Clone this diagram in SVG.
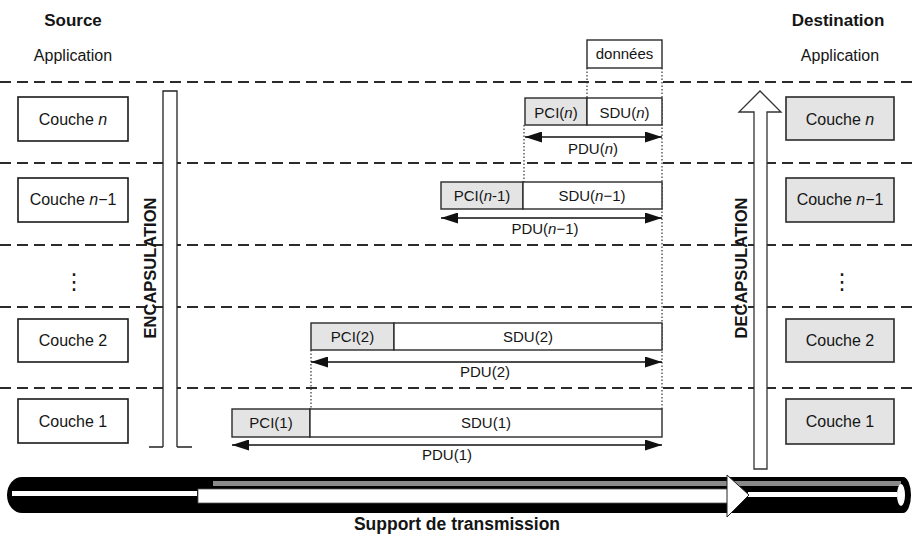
<svg xmlns="http://www.w3.org/2000/svg" width="916" height="534" viewBox="0 0 916 534">
  <style>
    text { font-family: "Liberation Sans", Arial, sans-serif; fill: #151515; }
    .hdr { font-size: 17px; font-weight: bold; text-anchor: middle; }
    .app { font-size: 16px; text-anchor: middle; }
    .lbl { font-size: 16px; text-anchor: middle; }
    .vdots { font-size: 22px; text-anchor: middle; font-family: "DejaVu Sans", sans-serif; }
    .sm { font-size: 15px; text-anchor: middle; }
    .vert { font-size: 16.5px; font-weight: bold; text-anchor: middle; }
    .box { fill: #fff; stroke: #1a1a1a; stroke-width: 1.6; }
    .gbox { fill: #e4e4e4; stroke: #2a2a2a; stroke-width: 1.6; }
    .cell { fill: #fff; stroke: #2a2a2a; stroke-width: 1.4; }
    .gcell { fill: #e4e4e4; stroke: #2a2a2a; stroke-width: 1.4; }
    .sep { stroke: #2b2b2b; stroke-width: 2; stroke-dasharray: 11 6; fill: none; }
    .dot { stroke: #333; stroke-width: 1.2; stroke-dasharray: 1.5 2; fill: none; }
    .pdu { stroke: #111; stroke-width: 1.6; fill: none; marker-start: url(#ah); marker-end: url(#ah); }
  </style>
  <defs>
    <marker id="ah" viewBox="0 0 17 11" refX="17" refY="5.5" markerWidth="17" markerHeight="11" markerUnits="userSpaceOnUse" orient="auto-start-reverse">
      <path d="M0,0 L17,5.5 L0,11 Z" fill="#111"/>
    </marker>
  </defs>

  <!-- column headers -->
  <g id="headers">
    <text class="hdr" x="73" y="26">Source</text>
    <text class="app" x="73" y="61">Application</text>
    <text class="hdr" x="838" y="26">Destination</text>
    <text class="app" x="840" y="61">Application</text>
  </g>

  <!-- layer separators -->
  <g id="separators">
    <line class="sep" x1="0" y1="82" x2="916" y2="82"/>
    <line class="sep" x1="0" y1="163" x2="916" y2="163"/>
    <line class="sep" x1="0" y1="245" x2="916" y2="245"/>
    <line class="sep" x1="0" y1="307" x2="916" y2="307"/>
    <line class="sep" x1="0" y1="388" x2="916" y2="388"/>
  </g>

  <!-- source stack -->
  <g id="src-n">
    <rect class="box" x="18" y="97" width="110" height="44"/>
    <text class="lbl" x="73" y="125">Couche <tspan font-style="italic">n</tspan></text>
  </g>
  <g id="src-n1">
    <rect class="box" x="18" y="178" width="110" height="44"/>
    <text class="lbl" x="73" y="205">Couche <tspan font-style="italic">n</tspan>−1</text>
  </g>
  <g id="src-dots">
    <text class="vdots" x="74" y="289">⋮</text>
  </g>
  <g id="src-2">
    <rect class="box" x="18" y="319" width="110" height="43"/>
    <text class="lbl" x="73" y="346">Couche 2</text>
  </g>
  <g id="src-1">
    <rect class="box" x="18" y="399" width="110" height="44"/>
    <text class="lbl" x="73" y="427">Couche 1</text>
  </g>

  <!-- destination stack -->
  <g id="dst-n">
    <rect class="gbox" x="786" y="97" width="108" height="43"/>
    <text class="lbl" x="840" y="125">Couche <tspan font-style="italic">n</tspan></text>
  </g>
  <g id="dst-n1">
    <rect class="gbox" x="786" y="178" width="108" height="44"/>
    <text class="lbl" x="840" y="205">Couche <tspan font-style="italic">n</tspan>−1</text>
  </g>
  <g id="dst-dots">
    <text class="vdots" x="842" y="289">⋮</text>
  </g>
  <g id="dst-2">
    <rect class="gbox" x="786" y="319" width="108" height="43"/>
    <text class="lbl" x="840" y="346">Couche 2</text>
  </g>
  <g id="dst-1">
    <rect class="gbox" x="786" y="399" width="108" height="45"/>
    <text class="lbl" x="840" y="427">Couche 1</text>
  </g>

  <!-- encapsulation (down) and decapsulation (up) arrows -->
  <g id="encapsulation">
    <path d="M163,447 V91 H177 V447" fill="#fff" stroke="#222" stroke-width="1.3"/>
    <path d="M149,447 H163 M177,447 H192" stroke="#222" stroke-width="1.3"/>
    <text class="vert" transform="translate(156,268) rotate(-90)">ENCAPSULATION</text>
  </g>
  <g id="decapsulation">
    <path d="M754,469 V112 H739 L760,91 L781,112 H767 V469 Z" fill="#fff" stroke="#333" stroke-width="1.3"/>
    <text class="vert" transform="translate(747,268) rotate(-90)">DECAPSULATION</text>
  </g>

  <!-- connectors: guide lines and PDU spans -->
  <g id="connectors">
    <line class="dot" x1="587" y1="68" x2="587" y2="98"/>
    <line class="dot" x1="662" y1="68" x2="662" y2="409"/>
    <line class="dot" x1="524" y1="125" x2="524" y2="182"/>
    <line class="dot" x1="311" y1="350" x2="311" y2="409"/>
    <line class="pdu" x1="525" y1="137" x2="662" y2="137"/>
    <line class="pdu" x1="441" y1="218" x2="662" y2="218"/>
    <line class="pdu" x1="311" y1="362" x2="662" y2="362"/>
    <line class="pdu" x1="232" y1="445" x2="662" y2="445"/>
  </g>

  <!-- data units -->
  <g id="donnees">
    <rect class="cell" x="587" y="40" width="75" height="28"/>
    <text class="sm" x="624.5" y="59" font-size="14">données</text>
  </g>
  <g id="pdu-n">
    <rect class="gcell" x="525" y="98" width="62" height="27"/>
    <rect class="cell" x="587" y="98" width="75" height="27"/>
    <text class="sm" x="556" y="118">PCI(<tspan font-style="italic">n</tspan>)</text>
    <text class="sm" x="624.5" y="118">SDU(<tspan font-style="italic">n</tspan>)</text>
    <text class="sm" x="593" y="154">PDU(<tspan font-style="italic">n</tspan>)</text>
  </g>
  <g id="pdu-n1">
    <rect class="gcell" x="441" y="182" width="82" height="27"/>
    <rect class="cell" x="523" y="182" width="139" height="27"/>
    <text class="sm" x="482" y="201">PCI(<tspan font-style="italic">n</tspan>-1)</text>
    <text class="sm" x="592" y="201">SDU(<tspan font-style="italic">n</tspan>−1)</text>
    <text class="sm" x="545" y="234">PDU(<tspan font-style="italic">n</tspan>−1)</text>
  </g>
  <g id="pdu-2">
    <rect class="gcell" x="311" y="323" width="83" height="27"/>
    <rect class="cell" x="394" y="323" width="268" height="27"/>
    <text class="sm" x="352.5" y="342">PCI(2)</text>
    <text class="sm" x="528" y="342">SDU(2)</text>
    <text class="sm" x="485" y="377">PDU(2)</text>
  </g>
  <g id="pdu-1">
    <rect class="gcell" x="232" y="409" width="78" height="28"/>
    <rect class="cell" x="310" y="409" width="352" height="28"/>
    <text class="sm" x="271" y="428">PCI(1)</text>
    <text class="sm" x="486" y="428">SDU(1)</text>
    <text class="sm" x="447" y="460">PDU(1)</text>
  </g>

  <!-- transmission medium (pipe) -->
  <g id="medium">
    <path d="M22,477 H903 A8,18 0 0 1 903,513 H22 A15,18 0 0 1 22,477 Z" fill="#000"/>
    <rect x="213" y="481" width="688" height="5" fill="#8a8a8a"/>
    <rect x="12" y="491" width="185" height="5" fill="#fff"/>
    <rect x="748" y="492" width="149" height="5" fill="#fff"/>
    <ellipse cx="901" cy="495" rx="4" ry="11" fill="#fff"/>
    <rect x="198" y="489" width="530" height="14" fill="#fff" stroke="#555" stroke-width="0.8"/>
    <path d="M727,475 L749,495 L727,517 Z" fill="#fff" stroke="#222" stroke-width="1"/>
    <text x="457" y="530" font-size="17.5" font-weight="bold" text-anchor="middle">Support de transmission</text>
  </g>
</svg>
